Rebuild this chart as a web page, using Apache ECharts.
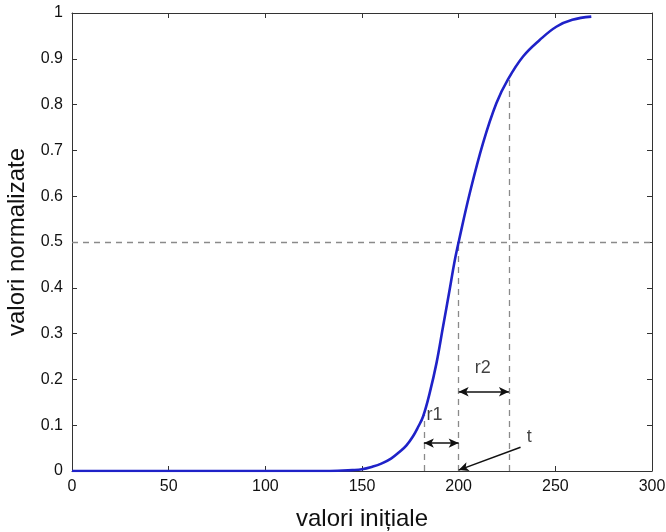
<!DOCTYPE html>
<html><head><meta charset="utf-8">
<script src="https://cdn.jsdelivr.net/npm/echarts@6/dist/echarts.min.js"></script>
<style>html,body{margin:0;padding:0;background:#fff}#c{width:666px;height:532px}</style>
</head><body><div id="c"></div>
<script>
const xValues = [0, 50, 100, 130, 140, 145, 150, 155, 160, 165, 169.5, 173, 176.4, 179, 181.6, 185.0, 188.5, 191.9, 195.3, 197.9, 200.2, 205.7, 212.6, 219.5, 225.5, 233.3, 241.9, 250.5, 258.8, 268.6];
const yValues = [0, 0, 0, 0, 0.001, 0.002, 0.004, 0.009, 0.016, 0.027, 0.042, 0.056, 0.076, 0.096, 0.119, 0.170, 0.235, 0.315, 0.395, 0.458, 0.504, 0.606, 0.716, 0.803, 0.855, 0.905, 0.941, 0.970, 0.985, 0.992];
const xTicks = [0, 50, 100, 150, 200, 250, 300];
const yTicks = [0, 0.1, 0.2, 0.3, 0.4, 0.5, 0.6, 0.7, 0.8, 0.9, 1];
const threshold = 0.5;
const r1 = [182, 200];
const r2 = [200, 226];
const r1Y = 0.061, r2Y = 0.173;
const r1Top = 0.122, tTop = 0.5, r2Top = 0.855;
const labelsText = ['r1', 'r2', 't'];
const labelsPos = [[187.5, 0.122], [212.4, 0.225], [236.5, 0.074]];
const tArrow = [[232, 0.052], [200, 0.002]];

const chart = echarts.init(document.getElementById('c'));
const font = 'Liberation Sans, Arial, sans-serif';
const axisCommon = {
  axisLine: {show: true, onZero: false, lineStyle: {color: '#333', width: 1}},
  axisTick: {show: true, inside: true, length: 5, lineStyle: {color: '#333'}},
  splitLine: {show: false}
};
chart.setOption({
  animation: false,
  backgroundColor: '#fff',
  grid: {left: 72, right: 14, top: 13, bottom: 61, containLabel: false, outerBoundsMode: 'none'},
  xAxis: [
    Object.assign({type: 'value', min: xTicks[0], max: xTicks[xTicks.length-1], interval: 50,
      name: 'valori inițiale', nameLocation: 'middle', nameGap: 36,
      nameTextStyle: {fontSize: 24, color: '#111', fontFamily: font},
      axisLabel: {fontSize: 16, color: '#111', fontFamily: font, margin: 8}}, axisCommon),
    Object.assign({type: 'value', position: 'top', min: 0, max: 300, interval: 50,
      axisLabel: {show: false}}, axisCommon)
  ],
  yAxis: [
    Object.assign({type: 'value', min: yTicks[0], max: yTicks[yTicks.length-1], interval: 0.1,
      name: 'valori normalizate', nameLocation: 'middle', nameGap: 38,
      nameTextStyle: {fontSize: 24, color: '#111', fontFamily: font},
      axisLabel: {fontSize: 16, color: '#111', fontFamily: font, margin: 9}}, axisCommon),
    Object.assign({type: 'value', position: 'right', min: 0, max: 1, interval: 0.1,
      axisLabel: {show: false}}, axisCommon)
  ],
  series: [
    {
      type: 'line', smooth: 0.4, symbol: 'none',
      data: xValues.map((x, i) => [x, yValues[i]]),
      lineStyle: {color: '#1f22c8', width: 2.6},
      z: 5,
      markLine: {
        silent: true, symbol: ['none', 'none'], label: {show: false},
        lineStyle: {color: '#8a8a8a', type: [6, 5], width: 1.3},
        data: [
          {yAxis: threshold},
          [{coord: [r1[0], 0]}, {coord: [r1[0], r1Top]}],
          [{coord: [r2[0], 0]}, {coord: [r2[0], tTop]}],
          [{coord: [r2[1], 0]}, {coord: [r2[1], r2Top]}]
        ]
      }
    },
    {
      type: 'line', data: [], z: 6,
      markLine: {
        silent: true, symbol: ['arrow', 'arrow'], symbolSize: [7, 10], label: {show: false},
        lineStyle: {color: '#111', type: 'solid', width: 1.5},
        data: [
          [{coord: [r1[0], r1Y]}, {coord: [r1[1], r1Y]}],
          [{coord: [r2[0], r2Y]}, {coord: [r2[1], r2Y]}],
          [{coord: tArrow[0], symbol: 'none'}, {coord: tArrow[1], symbol: 'arrow'}]
        ]
      }
    },
    {
      type: 'scatter', symbolSize: 0, z: 7,
      data: labelsPos.map((p, i) => ({value: p, name: labelsText[i]})),
      label: {show: true, position: 'inside', formatter: p => p.name, fontSize: 18, color: '#111', fontFamily: font}
    }
  ]
});
</script></body></html>
